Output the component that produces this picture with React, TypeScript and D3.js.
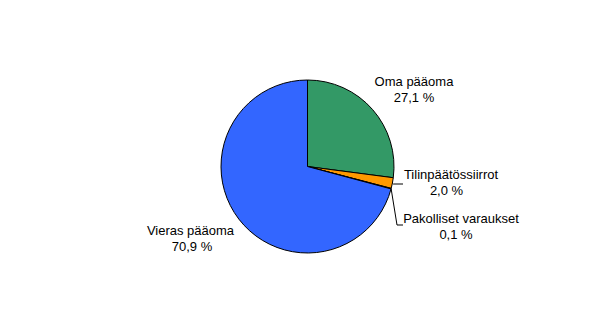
import React from "react";
import * as d3 from "d3";

const categories = ["Oma pääoma", "Tilinpäätössiirrot", "Pakolliset varaukset", "Vieras pääoma"];
const values = [27.1, 2.0, 0.1, 70.9];
const valueLabels = ["27,1 %", "2,0 %", "0,1 %", "70,9 %"];
const colors = ["#339966", "#FF9900", "#FFFF99", "#3366FF"];

// label layout: [centerX name, baselineY name, centerX value]
const labelPos: [number, number, number][] = [
  [414, 86, 414],
  [451, 179, 446.5],
  [461, 223, 456],
  [190.5, 235, 192],
];

export default function App() {
  const W = 615, H = 333;
  const cx = 307.5, cy = 166.5, r = 86.5;
  const pie = d3.pie<number>().sort(null).value((d) => d).startAngle(0).endAngle(2 * Math.PI);
  const arcs = pie(values);
  const arc = d3.arc<d3.PieArcDatum<number>>().innerRadius(0).outerRadius(r);
  const pt = (a: number, rr: number) => [cx + rr * Math.sin(a), cy - rr * Math.cos(a)];
  const midA = (i: number) => (arcs[i].startAngle + arcs[i].endAngle) / 2;
  const p1 = pt(midA(1), r);
  const p2 = pt(midA(2), r);
  return (
    <svg width={W} height={H} style={{ position: "absolute", left: 0, top: 0 }}
      fontFamily="'Liberation Sans', Arial, sans-serif" fontSize={13}>
      <rect width={W} height={H} fill="#fff" />
      <g transform={`translate(${cx},${cy})`}>
        {arcs.map((a, i) => (
          <path key={i} d={arc(a) || ""} fill={colors[i]} stroke="#000" strokeWidth={1} strokeLinejoin="round" />
        ))}
      </g>
      <polyline points={`${p1[0]},${p1[1]} ${p1[0] + 1},${184} ${403},${184}`} fill="none" stroke="#000" strokeWidth={1} />
      <polyline points={`${p2[0]},${p2[1]} ${397},${225} ${403},${225}`} fill="none" stroke="#000" strokeWidth={1} />
      {categories.map((c, i) => (
        <text key={c} textAnchor="middle" fill="#000">
          <tspan x={labelPos[i][0]} y={labelPos[i][1]}>{c}</tspan>
          <tspan x={labelPos[i][2]} y={labelPos[i][1] + 16}>{valueLabels[i]}</tspan>
        </text>
      ))}
    </svg>
  );
}
